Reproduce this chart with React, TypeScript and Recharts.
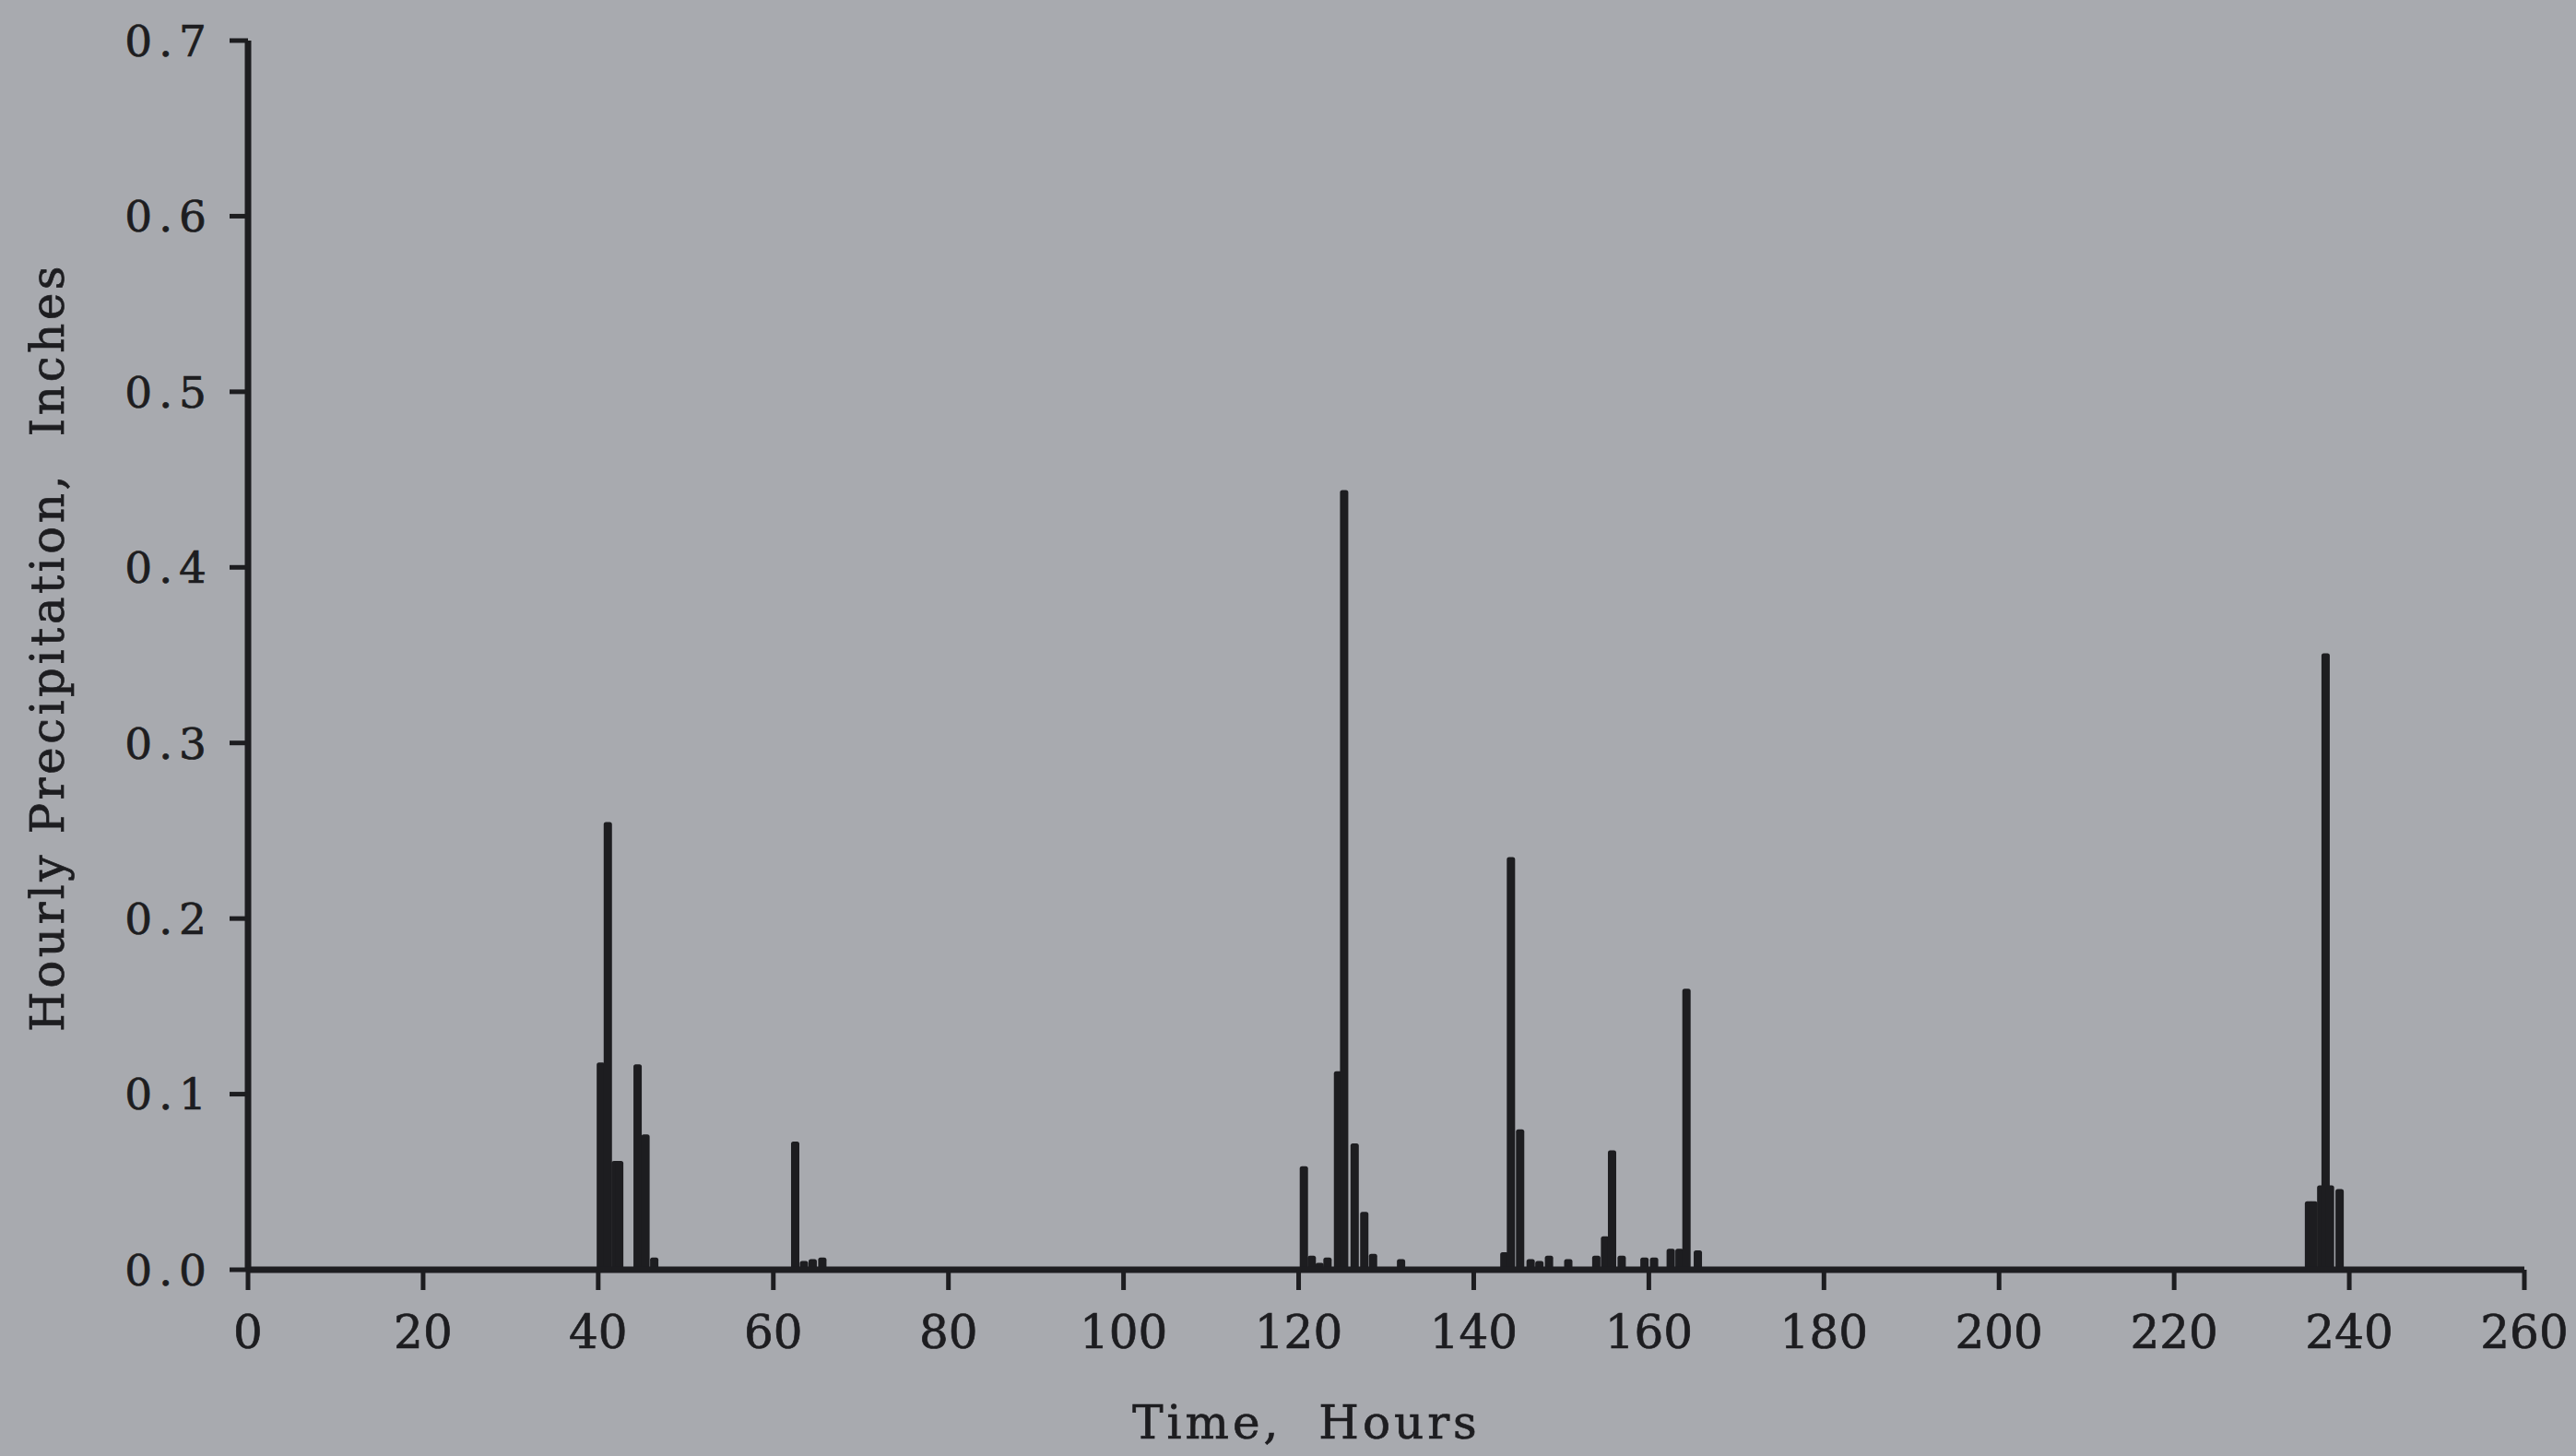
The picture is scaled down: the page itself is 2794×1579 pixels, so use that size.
import { BarChart, Bar, XAxis, YAxis, Label } from 'recharts'

// bar centres in hours (several spikes are not on whole hours)
const hours = [
  40.3, 41.1, 42.0, 42.4, 44.5, 45.4, 46.4,
  62.5, 63.5, 64.5, 65.6,
  120.6, 121.5, 122.4, 123.3, 124.5, 125.2, 126.4, 127.5, 128.5, 131.7,
  143.5, 144.25, 145.3, 146.5, 147.5, 148.6, 150.8,
  154.0, 155.0, 155.8, 156.9, 159.5, 160.6,
  162.5, 163.5, 164.3, 165.6,
  235.4, 235.9, 236.8, 237.3, 237.8, 238.9,
]

const inches = [
  0.118, 0.255, 0.062, 0.062, 0.117, 0.077, 0.007,
  0.073, 0.005, 0.006, 0.007,
  0.059, 0.008, 0.004, 0.007, 0.113, 0.444, 0.072, 0.033, 0.009, 0.006,
  0.010, 0.235, 0.080, 0.006, 0.005, 0.008, 0.006,
  0.008, 0.019, 0.068, 0.008, 0.007, 0.007,
  0.012, 0.012, 0.160, 0.011,
  0.039, 0.039, 0.048, 0.351, 0.048, 0.046,
]

const xTicks = [0, 20, 40, 60, 80, 100, 120, 140, 160, 180, 200, 220, 240, 260]
const yTicks = [0, 0.1, 0.2, 0.3, 0.4, 0.5, 0.6, 0.7]

const data = hours.map((t, i) => ({ t, p: inches[i] }))

const INK = '#1d1d20'
const FONT = '"DejaVu Serif", "Liberation Serif", serif'
const BAR_W = 9

// recharts squeezes bars on a numeric axis, so draw each one a fixed width around its x
function HourBar({ x, y, width, height }: any) {
  if (!height || height <= 0) return null
  const cx = x + width / 2
  const h = height + 3
  return <rect x={cx - BAR_W / 2} y={y} width={BAR_W} height={h} rx={2.5} fill={INK} />
}

function XTick({ x, y, payload }: any) {
  return (
    <text x={x} y={y} dy="0.71em" textAnchor="middle" fill={INK} stroke={INK} strokeWidth={0.7}
      fontFamily={FONT} fontSize={50}>
      {payload.value}
    </text>
  )
}

function YTick({ x, y, payload }: any) {
  return (
    <text x={x} y={y} dy="0.36em" textAnchor="end" fill={INK} stroke={INK} strokeWidth={0.7}
      fontFamily={FONT} fontSize={47} style={{ letterSpacing: 7 }}>
      {Number(payload.value).toFixed(1)}
    </text>
  )
}

export default function App() {
  return (
    <div style={{ position: 'fixed', left: 0, top: 0, width: 2794, height: 1579, background: '#a8aaaf' }}>
      <BarChart width={2794} height={1579} data={data}
        margin={{ top: 44, right: 56, left: 0, bottom: 0 }}>
        <XAxis
          dataKey="t"
          type="number"
          domain={[0, 260]}
          ticks={xTicks}
          allowDataOverflow
          height={202}
          axisLine={{ stroke: INK, strokeWidth: 7 }}
          tickLine={{ stroke: INK, strokeWidth: 5 }}
          tickSize={22}
          tickMargin={27}
          tick={<XTick />}
        >
          <Label
            content={() => (
              <text x={1417} y={1560} textAnchor="middle" fill={INK} stroke={INK} strokeWidth={0.7}
                fontFamily={FONT} fontSize={50} style={{ letterSpacing: 4 }}>
                {'Time,\u00a0\u00a0Hours'}
              </text>
            )}
          />
        </XAxis>
        <YAxis
          type="number"
          domain={[0, 0.7]}
          ticks={yTicks}
          width={269}
          axisLine={{ stroke: INK, strokeWidth: 7 }}
          tickLine={{ stroke: INK, strokeWidth: 5 }}
          tickSize={20}
          tickMargin={18}
          tick={<YTick />}
        >
          <Label
            content={() => (
              <text x={52} y={702} transform="rotate(-90 52 702)" textAnchor="middle"
                dominantBaseline="central" fill={INK} stroke={INK} strokeWidth={0.7}
                fontFamily={FONT} fontSize={50} style={{ letterSpacing: 3.5 }}>
                {'Hourly Precipitation,\u00a0\u00a0Inches'}
              </text>
            )}
          />
        </YAxis>
        <Bar dataKey="p" fill={INK} shape={<HourBar />} isAnimationActive={false} />
      </BarChart>
    </div>
  )
}
